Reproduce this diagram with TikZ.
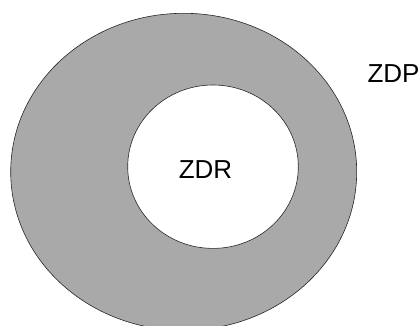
\documentclass[tikz,border=0pt]{standalone}
\usepackage{fontspec}
\setmainfont{Liberation Sans}
\definecolor{ringgray}{RGB}{169,169,169}
\begin{document}
\begin{tikzpicture}[x=1pt,y=-1pt,
  zone/.style={draw=black!85,line width=0.6pt},
  lbl/.style={font=\fontsize{26}{30}\selectfont,inner sep=0pt}]
\useasboundingbox (0,0) rectangle (420,326);
\clip (0,0) rectangle (420,326);
\draw[zone,fill=ringgray] (183.7,171.8) ellipse [x radius=173,y radius=158.5];
\draw[zone,fill=white] (213,166.7) ellipse [x radius=85.3,y radius=81.7];
\node[lbl] (zdr) at (205.5,170) {ZDR};
\node[lbl] (zdp) at (393.5,74) {ZDP};
\end{tikzpicture}
\end{document}
